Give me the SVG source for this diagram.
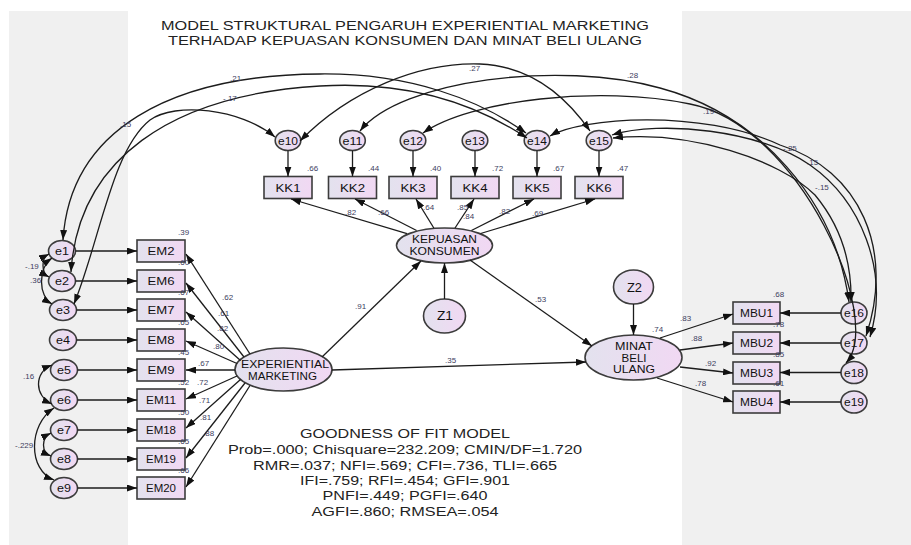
<svg xmlns="http://www.w3.org/2000/svg" width="911" height="545" viewBox="0 0 911 545">
<defs>
<linearGradient id="g" x1="0" y1="0" x2="1" y2="0"><stop offset="0" stop-color="#e3e2ee"/><stop offset="1" stop-color="#f1d8f3"/></linearGradient>
<marker id="ah" viewBox="0 0 10 7" refX="10" refY="3.5" markerWidth="10" markerHeight="7" markerUnits="userSpaceOnUse" orient="auto-start-reverse"><path d="M0,0 L10,3.5 L0,7 z" fill="#111"/></marker>
<style>
.n{fill:url(#g);stroke:#3c3c3c;stroke-width:1.6}
.t{font-family:"Liberation Sans",Arial,sans-serif;font-size:11px;fill:#111;text-anchor:middle}
.h{font-family:"Liberation Sans",Arial,sans-serif;font-size:12.5px;fill:#222;text-anchor:middle}
.v{font-family:"Liberation Sans",Arial,sans-serif;font-size:8px;fill:#3d3d5e}
.c{fill:none;stroke:#1c1c1c;stroke-width:1.3}
.a{marker-end:url(#ah)}
.d{marker-start:url(#ah);marker-end:url(#ah)}
</style>
</defs>
<rect x="0" y="0" width="911" height="545" fill="#fff"/>
<rect x="9" y="11" width="119" height="534" fill="#f0f0f0"/>
<rect x="682" y="11" width="229" height="534" fill="#f0f0f0"/>

<g id="title">
<text class="h" x="405" y="29.5" textLength="488" lengthAdjust="spacingAndGlyphs">MODEL STRUKTURAL PENGARUH EXPERIENTIAL MARKETING</text>
<text class="h" x="405" y="45" textLength="474" lengthAdjust="spacingAndGlyphs">TERHADAP KEPUASAN KONSUMEN DAN MINAT BELI ULANG</text>
</g>

<g id="nodes">
<g id="e1"><ellipse class="n" cx="62" cy="251" rx="13.5" ry="10.5"/><text class="t" x="62" y="255" textLength="14" lengthAdjust="spacingAndGlyphs">e1</text></g>
<g id="e2"><ellipse class="n" cx="62" cy="281" rx="13.5" ry="10.5"/><text class="t" x="62" y="285" textLength="14" lengthAdjust="spacingAndGlyphs">e2</text></g>
<g id="e3"><ellipse class="n" cx="63" cy="310" rx="13.5" ry="10.5"/><text class="t" x="63" y="314" textLength="14" lengthAdjust="spacingAndGlyphs">e3</text></g>
<g id="e4"><ellipse class="n" cx="63" cy="340" rx="13.5" ry="10.5"/><text class="t" x="63" y="344" textLength="14" lengthAdjust="spacingAndGlyphs">e4</text></g>
<g id="e5"><ellipse class="n" cx="64" cy="370" rx="13.5" ry="10.5"/><text class="t" x="64" y="374" textLength="14" lengthAdjust="spacingAndGlyphs">e5</text></g>
<g id="e6"><ellipse class="n" cx="64" cy="400" rx="13.5" ry="10.5"/><text class="t" x="64" y="404" textLength="14" lengthAdjust="spacingAndGlyphs">e6</text></g>
<g id="e7"><ellipse class="n" cx="64" cy="430" rx="13.5" ry="10.5"/><text class="t" x="64" y="434" textLength="14" lengthAdjust="spacingAndGlyphs">e7</text></g>
<g id="e8"><ellipse class="n" cx="64" cy="459" rx="13.5" ry="10.5"/><text class="t" x="64" y="463" textLength="14" lengthAdjust="spacingAndGlyphs">e8</text></g>
<g id="e9"><ellipse class="n" cx="64" cy="488" rx="13.5" ry="10.5"/><text class="t" x="64" y="492" textLength="14" lengthAdjust="spacingAndGlyphs">e9</text></g>

<g id="EM2"><rect class="n" x="137" y="240" width="48" height="22"/><text class="t" x="161" y="255" textLength="27" lengthAdjust="spacingAndGlyphs">EM2</text></g>
<g id="EM6"><rect class="n" x="137" y="270" width="48" height="22"/><text class="t" x="161" y="285" textLength="27" lengthAdjust="spacingAndGlyphs">EM6</text></g>
<g id="EM7"><rect class="n" x="137" y="299" width="48" height="22"/><text class="t" x="161" y="314" textLength="27" lengthAdjust="spacingAndGlyphs">EM7</text></g>
<g id="EM8"><rect class="n" x="137" y="329" width="48" height="22"/><text class="t" x="161" y="344" textLength="27" lengthAdjust="spacingAndGlyphs">EM8</text></g>
<g id="EM9"><rect class="n" x="137" y="359" width="48" height="22"/><text class="t" x="161" y="374" textLength="27" lengthAdjust="spacingAndGlyphs">EM9</text></g>
<g id="EM11"><rect class="n" x="137" y="389" width="48" height="22"/><text class="t" x="161" y="404" textLength="30" lengthAdjust="spacingAndGlyphs">EM11</text></g>
<g id="EM18"><rect class="n" x="137" y="419" width="48" height="22"/><text class="t" x="161" y="434" textLength="30" lengthAdjust="spacingAndGlyphs">EM18</text></g>
<g id="EM19"><rect class="n" x="137" y="448" width="48" height="22"/><text class="t" x="161" y="463" textLength="30" lengthAdjust="spacingAndGlyphs">EM19</text></g>
<g id="EM20"><rect class="n" x="137" y="477" width="48" height="22"/><text class="t" x="161" y="492" textLength="30" lengthAdjust="spacingAndGlyphs">EM20</text></g>

<g id="e10"><ellipse class="n" cx="288" cy="140.5" rx="12.8" ry="10"/><text class="t" x="288" y="144.5" textLength="20" lengthAdjust="spacingAndGlyphs">e10</text></g>
<g id="e11"><ellipse class="n" cx="352.5" cy="140.5" rx="12.8" ry="10"/><text class="t" x="352.5" y="144.5" textLength="20" lengthAdjust="spacingAndGlyphs">e11</text></g>
<g id="e12"><ellipse class="n" cx="413" cy="140.5" rx="12.8" ry="10"/><text class="t" x="413" y="144.5" textLength="20" lengthAdjust="spacingAndGlyphs">e12</text></g>
<g id="e13"><ellipse class="n" cx="475" cy="140.5" rx="12.8" ry="10"/><text class="t" x="475" y="144.5" textLength="20" lengthAdjust="spacingAndGlyphs">e13</text></g>
<g id="e14"><ellipse class="n" cx="537" cy="140.5" rx="12.8" ry="10"/><text class="t" x="537" y="144.5" textLength="20" lengthAdjust="spacingAndGlyphs">e14</text></g>
<g id="e15"><ellipse class="n" cx="599" cy="140.5" rx="12.8" ry="10"/><text class="t" x="599" y="144.5" textLength="20" lengthAdjust="spacingAndGlyphs">e15</text></g>

<g id="KK1"><rect class="n" x="264" y="176.5" width="48" height="22"/><text class="t" x="288" y="191.5" textLength="25" lengthAdjust="spacingAndGlyphs">KK1</text></g>
<g id="KK2"><rect class="n" x="328.5" y="176.5" width="48" height="22"/><text class="t" x="352.5" y="191.5" textLength="25" lengthAdjust="spacingAndGlyphs">KK2</text></g>
<g id="KK3"><rect class="n" x="389" y="176.5" width="48" height="22"/><text class="t" x="413" y="191.5" textLength="25" lengthAdjust="spacingAndGlyphs">KK3</text></g>
<g id="KK4"><rect class="n" x="451" y="176.5" width="48" height="22"/><text class="t" x="475" y="191.5" textLength="25" lengthAdjust="spacingAndGlyphs">KK4</text></g>
<g id="KK5"><rect class="n" x="513" y="176.5" width="48" height="22"/><text class="t" x="537" y="191.5" textLength="25" lengthAdjust="spacingAndGlyphs">KK5</text></g>
<g id="KK6"><rect class="n" x="575" y="176.5" width="48" height="22"/><text class="t" x="599" y="191.5" textLength="25" lengthAdjust="spacingAndGlyphs">KK6</text></g>

<g id="KEPUASAN"><ellipse class="n" cx="444.5" cy="245.5" rx="48" ry="17.5"/><text class="t" x="444.5" y="243" textLength="65" lengthAdjust="spacingAndGlyphs">KEPUASAN</text><text class="t" x="444.5" y="255" textLength="70" lengthAdjust="spacingAndGlyphs">KONSUMEN</text></g>
<g id="Z1"><ellipse class="n" cx="444.5" cy="316" rx="21" ry="17"/><text class="t" x="445" y="320" style="font-size:12px" textLength="16" lengthAdjust="spacingAndGlyphs">Z1</text></g>
<g id="EXPERIENTIAL"><ellipse class="n" cx="283.5" cy="369.5" rx="48.5" ry="21.5"/><text class="t" x="285" y="368" textLength="88" lengthAdjust="spacingAndGlyphs">EXPERIENTIAL</text><text class="t" x="282.5" y="380" textLength="69" lengthAdjust="spacingAndGlyphs">MARKETING</text></g>
<g id="MINAT"><ellipse class="n" cx="633.5" cy="357.5" rx="48.5" ry="22.5"/><text class="t" x="634" y="350" textLength="38" lengthAdjust="spacingAndGlyphs">MINAT</text><text class="t" x="634" y="361.5" textLength="25" lengthAdjust="spacingAndGlyphs">BELI</text><text class="t" x="634" y="373" textLength="42" lengthAdjust="spacingAndGlyphs">ULANG</text></g>
<g id="Z2"><ellipse class="n" cx="633.5" cy="287" rx="20" ry="17"/><text class="t" x="634.5" y="291.5" style="font-size:12px" textLength="15" lengthAdjust="spacingAndGlyphs">Z2</text></g>

<g id="MBU1"><rect class="n" x="733" y="302" width="47" height="22"/><text class="t" x="756.5" y="317" textLength="33" lengthAdjust="spacingAndGlyphs">MBU1</text></g>
<g id="MBU2"><rect class="n" x="733" y="332" width="47" height="22"/><text class="t" x="756.5" y="347" textLength="33" lengthAdjust="spacingAndGlyphs">MBU2</text></g>
<g id="MBU3"><rect class="n" x="733" y="362" width="47" height="22"/><text class="t" x="756.5" y="377" textLength="33" lengthAdjust="spacingAndGlyphs">MBU3</text></g>
<g id="MBU4"><rect class="n" x="733" y="391" width="47" height="22"/><text class="t" x="756.5" y="406" textLength="33" lengthAdjust="spacingAndGlyphs">MBU4</text></g>

<g id="e16"><ellipse class="n" cx="854" cy="313" rx="13" ry="11"/><text class="t" x="854" y="317" textLength="20" lengthAdjust="spacingAndGlyphs">e16</text></g>
<g id="e17"><ellipse class="n" cx="854" cy="343" rx="13" ry="11"/><text class="t" x="854" y="347" textLength="20" lengthAdjust="spacingAndGlyphs">e17</text></g>
<g id="e18"><ellipse class="n" cx="854" cy="372.5" rx="13" ry="11"/><text class="t" x="854" y="376.5" textLength="20" lengthAdjust="spacingAndGlyphs">e18</text></g>
<g id="e19"><ellipse class="n" cx="854" cy="402" rx="13" ry="11"/><text class="t" x="854" y="406" textLength="20" lengthAdjust="spacingAndGlyphs">e19</text></g>
</g>

<g id="connectors">
<path class="c a" d="M75.5,251 H137"/>
<path class="c a" d="M75.5,281 H137"/>
<path class="c a" d="M76.5,310 H137"/>
<path class="c a" d="M76.5,340 H137"/>
<path class="c a" d="M77.5,370 H137"/>
<path class="c a" d="M77.5,400 H137"/>
<path class="c a" d="M77.5,430 H137"/>
<path class="c a" d="M77.5,459 H137"/>
<path class="c a" d="M77.5,488 H137"/>

<path class="c a" d="M250,354 L186,254"/>
<path class="c a" d="M244,357 L186,283"/>
<path class="c a" d="M240.5,360.5 L186,312"/>
<path class="c a" d="M237,363.5 L186,341"/>
<path class="c a" d="M235,370 L186,370"/>
<path class="c a" d="M237,376 L186,399"/>
<path class="c a" d="M240.5,379.5 L186,428"/>
<path class="c a" d="M245,383 L186,458"/>
<path class="c a" d="M250,385.5 L186,487"/>

<path class="c a" d="M288,150.5 V176.5"/>
<path class="c a" d="M352.5,150.5 V176.5"/>
<path class="c a" d="M413,150.5 V176.5"/>
<path class="c a" d="M475,150.5 V176.5"/>
<path class="c a" d="M537,150.5 V176.5"/>
<path class="c a" d="M599,150.5 V176.5"/>

<path class="c a" d="M407,233.6 L291,199"/>
<path class="c a" d="M416.6,230.5 L355,199"/>
<path class="c a" d="M433.8,228 L416,199"/>
<path class="c a" d="M455,228 L474,199"/>
<path class="c a" d="M471.4,230.5 L534,199"/>
<path class="c a" d="M480.6,233.5 L595,199"/>

<path class="c a" d="M444.5,299 V263"/>
<path class="c a" d="M322,357 L421,261"/>
<path class="c a" d="M332,370 L586,362"/>
<path class="c a" d="M470,260 L592,346"/>
<path class="c a" d="M633.5,304 V335"/>

<path class="c a" d="M660,338 L733,314"/>
<path class="c a" d="M680,350 L733,343"/>
<path class="c a" d="M680,367 L733,373"/>
<path class="c a" d="M657,378 L733,402"/>

<path class="c a" d="M841,313 H780"/>
<path class="c a" d="M841,343 H780"/>
<path class="c a" d="M841,372.5 H780"/>
<path class="c a" d="M841,402 H780"/>

<path class="c d" d="M49,254 C41,258 41,273 49,277"/>
<path class="c d" d="M52,258 C38,268 38,296 52,304"/>
<path class="c d" d="M52,365 C34,372 34,396 52,404"/>
<path class="c d" d="M54,408 C28,425 28,470 54,480"/>
<path class="c d" d="M51,433 C41,438 41,452 51,456"/>

<path class="c d" d="M74,304 C100,240 112,150 150,120 C175,102 240,108 275,137"/>
<path class="c d" d="M63,240 C70,130 170,75 320,74 C410,73 480,100 526,133"/>
<path class="c d" d="M71,272 C78,160 170,95 320,86 C420,80 485,110 527,138"/>
<path class="c d" d="M300,141 C350,90 420,62 480,64 C530,66 565,95 590,131"/>
<path class="c d" d="M360,131 C400,80 560,60 660,88 C760,115 835,200 849,302"/>
<path class="c d" d="M423,133 C470,100 600,85 690,104 C800,125 885,320 846,363"/>
<path class="c d" d="M550,136 C580,118 700,108 780,145 C860,170 895,250 866,336"/>
<path class="c d" d="M612,135 C660,120 760,130 810,165 C860,200 890,270 870,337"/>
<path class="c d" d="M613,138 C690,130 780,160 815,195 C840,225 852,260 851,302"/>
</g>

<g id="labels">
<text class="v" x="178" y="235">.39</text>
<text class="v" x="178" y="265">.60</text>
<text class="v" x="178" y="295">.67</text>
<text class="v" x="178" y="325">.65</text>
<text class="v" x="178" y="355">.45</text>
<text class="v" x="178" y="385">.52</text>
<text class="v" x="178" y="415">.50</text>
<text class="v" x="178" y="444">.65</text>
<text class="v" x="178" y="473">.66</text>

<text class="v" x="222" y="300">.62</text>
<text class="v" x="218" y="316">.61</text>
<text class="v" x="217" y="331">.82</text>
<text class="v" x="213" y="349">.80</text>
<text class="v" x="198" y="366">.67</text>
<text class="v" x="197" y="385">.72</text>
<text class="v" x="199" y="403">.71</text>
<text class="v" x="200" y="420">.81</text>
<text class="v" x="203" y="436">.88</text>

<text class="v" x="307" y="171">.66</text>
<text class="v" x="368" y="171">.44</text>
<text class="v" x="430" y="171">.40</text>
<text class="v" x="492" y="171">.72</text>
<text class="v" x="553" y="171">.67</text>
<text class="v" x="617" y="171">.47</text>

<text class="v" x="345" y="215">.82</text>
<text class="v" x="378" y="215">.66</text>
<text class="v" x="423" y="210">.64</text>
<text class="v" x="457" y="210">.85</text>
<text class="v" x="463" y="219">.84</text>
<text class="v" x="499" y="214">.82</text>
<text class="v" x="532" y="216">.69</text>

<text class="v" x="355" y="309">.91</text>
<text class="v" x="445" y="363">.35</text>
<text class="v" x="535" y="302">.53</text>

<text class="v" x="652" y="332">.74</text>
<text class="v" x="680" y="321">.83</text>
<text class="v" x="691" y="341">.88</text>
<text class="v" x="705" y="366">.92</text>
<text class="v" x="695" y="386">.78</text>

<text class="v" x="773" y="297">.68</text>
<text class="v" x="773" y="327">.78</text>
<text class="v" x="773" y="357">.85</text>
<text class="v" x="773" y="386">.61</text>

<text class="v" x="25" y="269">-.19</text>
<text class="v" x="30" y="283">.36</text>
<text class="v" x="23" y="379">.16</text>
<text class="v" x="15" y="448">-.229</text>

<text class="v" x="120" y="127">.15</text>
<text class="v" x="230" y="81">.21</text>
<text class="v" x="223" y="101">-.17</text>
<text class="v" x="469" y="71">.27</text>
<text class="v" x="627" y="78">.28</text>
<text class="v" x="703" y="114">.19</text>
<text class="v" x="783" y="151">-.25</text>
<text class="v" x="807" y="165">.15</text>
<text class="v" x="815" y="190">-.15</text>
</g>

<g id="fit">
<text class="h" x="405" y="438" textLength="210" lengthAdjust="spacingAndGlyphs">GOODNESS OF FIT MODEL</text>
<text class="h" x="405" y="454" textLength="354" lengthAdjust="spacingAndGlyphs">Prob=.000; Chisquare=232.209; CMIN/DF=1.720</text>
<text class="h" x="405" y="469.5" textLength="304" lengthAdjust="spacingAndGlyphs">RMR=.037; NFI=.569; CFI=.736, TLI=.665</text>
<text class="h" x="405" y="485" textLength="210" lengthAdjust="spacingAndGlyphs">IFI=.759; RFI=.454; GFI=.901</text>
<text class="h" x="405" y="500" textLength="165" lengthAdjust="spacingAndGlyphs">PNFI=.449; PGFI=.640</text>
<text class="h" x="405" y="515.5" textLength="187" lengthAdjust="spacingAndGlyphs">AGFI=.860; RMSEA=.054</text>
</g>
</svg>
